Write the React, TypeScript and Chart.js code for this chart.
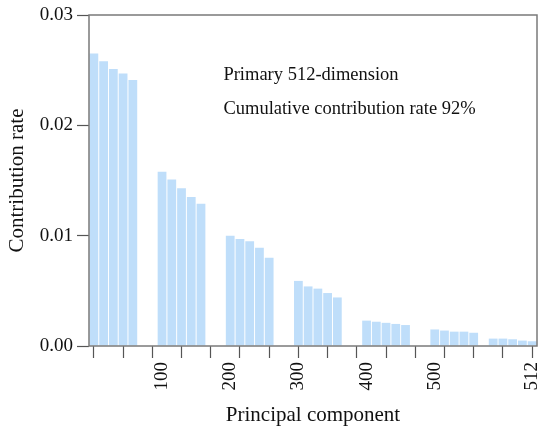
import { useEffect, useRef } from 'react'
import { Chart, registerables, Plugin } from 'chart.js'

Chart.register(...registerables)

// component index per slot; '' = spacer between groups
const components = [
  '1', '2', '3', '4', '5', '', '',
  '100', '101', '102', '103', '104', '', '',
  '200', '201', '202', '203', '204', '', '',
  '300', '301', '302', '303', '304', '', '',
  '400', '401', '402', '403', '404', '', '',
  '500', '501', '502', '503', '504', '',
  '508', '509', '510', '511', '512',
]
const contributionRate: (number | null)[] = [
  0.0265, 0.0258, 0.0251, 0.0247, 0.0241, null, null,
  0.0158, 0.0151, 0.0143, 0.0135, 0.0129, null, null,
  0.0100, 0.0097, 0.0095, 0.0089, 0.0080, null, null,
  0.0059, 0.0054, 0.0052, 0.0048, 0.0044, null, null,
  0.0023, 0.0022, 0.0021, 0.0020, 0.0019, null, null,
  0.0015, 0.0014, 0.0013, 0.0013, 0.0012, null,
  0.00067, 0.00067, 0.00061, 0.00049, 0.00043,
]
const shownLabels = ['100', '200', '300', '400', '500', '512']
const yTicks = [0, 0.01, 0.02, 0.03]
const notes = ['Primary 512-dimension', 'Cumulative contribution rate 92%']

const FONT = "'Liberation Serif', 'Times New Roman', serif"
const BAR = 'rgb(191,222,250)'
const AXIS = '#7a7a7a'
const TICKC = '#555'

const frame: Plugin = {
  id: 'frame',
  afterDatasetsDraw(chart) {
    const { ctx, chartArea: a } = chart
    ctx.save()
    ctx.strokeStyle = AXIS
    ctx.lineWidth = 1.5
    ctx.strokeRect(a.left, a.top, a.right - a.left, a.bottom - a.top)
    ctx.fillStyle = '#111'
    ctx.font = `18.5px ${FONT}`
    ctx.textBaseline = 'alphabetic'
    const x = a.left + (a.right - a.left) * 0.3
    const y = a.top + (a.bottom - a.top) * 0.196
    notes.forEach((t, i) => ctx.fillText(t, x, y + i * 34))
    ctx.restore()
  },
}

export default function App() {
  const ref = useRef<HTMLCanvasElement>(null)
  const chart = useRef<Chart | null>(null)

  useEffect(() => {
    document.body.style.margin = '0'
    if (!ref.current) return
    chart.current?.destroy()
    chart.current = new Chart(ref.current, {
      type: 'bar',
      data: {
        labels: components,
        datasets: [{
          data: contributionRate,
          backgroundColor: BAR,
          barPercentage: 0.9,
          categoryPercentage: 1,
        }],
      },
      options: {
        responsive: true, maintainAspectRatio: false, animation: false,
        layout: { padding: { top: 15, right: 13, left: 0, bottom: 0 } },
        plugins: { legend: { display: false }, tooltip: { enabled: false } },
        scales: {
          x: {
            afterFit: (s: any) => { s.height = 88; s.paddingLeft = 0; s.paddingRight = 0 },
            border: { display: false },
            grid: {
              offset: false, drawOnChartArea: false, tickLength: 12,
              tickColor: (c: any) => (c.index % 3 === 0 ? TICKC : 'transparent'),
              tickWidth: 1.2,
            },
            ticks: {
              autoSkip: false, minRotation: 90, maxRotation: 90, padding: 4,
              color: '#111', font: { family: FONT, size: 19 },
              callback: (_v: any, i: number) => (shownLabels.includes(components[i]) ? components[i] : ''),
            },
            title: {
              display: true, text: 'Principal component', color: '#111',
              font: { family: FONT, size: 21, lineHeight: 1.2 }, padding: { top: 0, bottom: 6 },
            },
          },
          y: {
            min: 0, max: 0.03,
            afterFit: (s: any) => { s.width = 89; s.paddingTop = 0; s.paddingBottom = 0 },
            afterBuildTicks: (s: any) => { s.ticks = yTicks.map(v => ({ value: v })) },
            border: { display: false },
            grid: { drawOnChartArea: false, tickLength: 12, tickColor: TICKC, tickWidth: 1.2 },
            ticks: {
              padding: 4, color: '#111', font: { family: FONT, size: 19 },
              callback: (v: any) => Number(v).toFixed(2),
            },
            title: {
              display: true, text: 'Contribution rate', color: '#111',
              font: { family: FONT, size: 21, lineHeight: 1.2 }, padding: { top: 5, bottom: 0 },
            },
          },
        },
      },
      plugins: [frame],
    })
    return () => chart.current?.destroy()
  }, [])

  return (
    <div style={{ width: 550, height: 434, position: 'relative' }}>
      <canvas ref={ref} />
    </div>
  )
}
